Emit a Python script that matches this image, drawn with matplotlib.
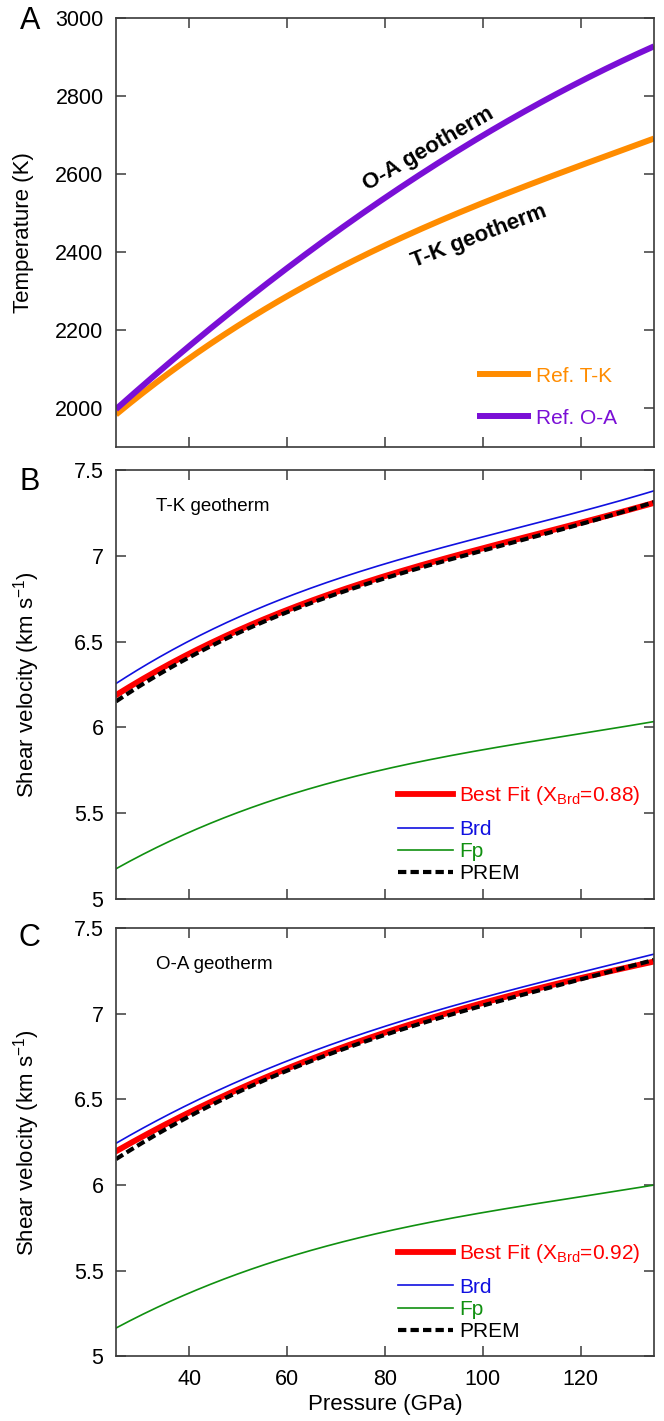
import numpy as np
import matplotlib
matplotlib.use('Agg')
import matplotlib.pyplot as plt
from matplotlib.ticker import FormatStrFormatter

plt.rcParams['font.family'] = ['Liberation Sans', 'DejaVu Sans']
plt.rcParams['mathtext.fontset'] = 'custom'
plt.rcParams['mathtext.rm'] = 'Liberation Sans'
plt.rcParams['mathtext.it'] = 'Liberation Sans:italic'

P = [25, 40, 60, 80, 100, 120, 135]

# panel A: geotherms (K)
T_tk = [1983, 2129, 2283, 2421, 2527, 2620, 2693]
T_oa = [1996, 2163, 2352, 2545, 2700, 2835, 2930]

# panel B: T-K geotherm, shear velocity (km/s)
vs_fit_b = [6.192, 6.42, 6.700, 6.874, 7.048, 7.194, 7.310]
vs_brd_b = [6.258, 6.50, 6.767, 6.950, 7.116, 7.256, 7.382]
vs_fp_b = [5.178, 5.382, 5.605, 5.760, 5.866, 5.963, 6.035]
vs_prem_b = [6.155, 6.40, 6.685, 6.862, 7.035, 7.185, 7.315]

# panel C: O-A geotherm
vs_fit_c = [6.198, 6.42, 6.684, 6.888, 7.062, 7.207, 7.304]
vs_brd_c = [6.244, 6.471, 6.723, 6.926, 7.097, 7.236, 7.349]
vs_fp_c = [5.163, 5.376, 5.570, 5.730, 5.840, 5.930, 6.000]
vs_prem_c = [6.151, 6.40, 6.670, 6.872, 7.050, 7.198, 7.314]

x_ticks = [40, 60, 80, 100, 120]
T_ticks = [2000, 2200, 2400, 2600, 2800, 3000]
v_ticks = [5, 5.5, 6, 6.5, 7, 7.5]

orange = '#ff8c00'
purple = '#7a0fd6'
spine_c = '#3a3a3a'
fs_tick = 15.5
fs_lab = 16
fs_leg = 15


def smooth(p, v):
    pp = np.linspace(p[0], p[-1], 200)
    coef = np.polyfit(p, v, 3)
    return pp, np.polyval(coef, pp)


def style(ax):
    for s in ax.spines.values():
        s.set_color(spine_c)
        s.set_linewidth(1.2)
    ax.tick_params(direction='in', top=True, right=True, length=7, width=1.1,
                   color=spine_c, labelsize=fs_tick)
    ax.tick_params(axis='y', pad=9)
    ax.tick_params(axis='x', pad=9)
    ax.set_xlim(25, 135)
    ax.set_xticks(x_ticks)


fig = plt.figure(figsize=(6.64, 14.21), dpi=100)
axA = fig.add_axes([0.1747, 0.6855, 0.8102, 0.3015])
axB = fig.add_axes([0.1747, 0.3675, 0.8102, 0.3015])
axC = fig.add_axes([0.1747, 0.0455, 0.8102, 0.3015])

# ---- panel A
pp, tt = smooth(P, T_tk)
axA.plot(pp, tt, color=orange, lw=4.3, label='Ref. T-K', solid_capstyle='butt')
pp, tt = smooth(P, T_oa)
axA.plot(pp, tt, color=purple, lw=4.3, label='Ref. O-A', solid_capstyle='butt')
style(axA)
axA.set_ylim(1900, 3000)
axA.set_yticks(T_ticks)
axA.set_xticklabels([])
axA.set_ylabel('Temperature (K)', fontsize=fs_lab)
axA.yaxis.set_label_coords(-0.152, 0.5)
axA.text(88.8, 2665, 'O-A geotherm', fontsize=16, fontweight='bold',
         rotation=30, ha='center', va='center')
axA.text(99.3, 2441, 'T-K geotherm', fontsize=16, fontweight='bold',
         rotation=21, ha='center', va='center')
axA.legend(loc='lower left', bbox_to_anchor=(0.671, 0.045), frameon=False,
           fontsize=fs_leg, handlelength=2.6, handletextpad=0.25, labelspacing=1.1,
           borderpad=0, borderaxespad=0, labelcolor='linecolor')

# ---- panels B and C
panels = [
    (axB, vs_fit_b, vs_brd_b, vs_fp_b, vs_prem_b, '0.88', 'T-K geotherm'),
    (axC, vs_fit_c, vs_brd_c, vs_fp_c, vs_prem_c, '0.92', 'O-A geotherm'),
]
for ax, fit, brd, fp, prem, xb, name in panels:
    pp, v = smooth(P, fit)
    l_fit, = ax.plot(pp, v, color='#ff0000', lw=4.2,
                     label=r'Best Fit (X$_{\mathregular{Brd}}$=' + xb + ')')
    pp, v = smooth(P, brd)
    l_brd, = ax.plot(pp, v, color='#1010e0', lw=1.2, label='Brd')
    pp, v = smooth(P, fp)
    l_fp, = ax.plot(pp, v, color='#109010', lw=1.2, label='Fp')
    pp, v = smooth(P, prem)
    l_prem, = ax.plot(pp, v, color='black', lw=3, ls=(0, (2.0, 1.0)), label='PREM')
    style(ax)
    ax.set_ylim(5, 7.5)
    ax.set_yticks(v_ticks)
    ax.yaxis.set_major_formatter(FormatStrFormatter('%g'))
    ax.set_ylabel(r'Shear velocity (km s$^{\mathregular{-1}}$)', fontsize=fs_lab)
    ax.yaxis.set_label_coords(-0.137, 0.5)
    ax.text(0.074, 0.915, name, transform=ax.transAxes, fontsize=13.5,
            ha='left', va='center')
    leg1 = ax.legend(handles=[l_fit], loc='center left', bbox_to_anchor=(0.525, 0.24),
                     frameon=False, fontsize=fs_leg, handlelength=2.6, handletextpad=0.3,
                     borderpad=0, borderaxespad=0)
    ax.add_artist(leg1)
    leg2 = ax.legend(handles=[l_brd, l_fp, l_prem], loc='lower left',
                     bbox_to_anchor=(0.525, 0.036), frameon=False, fontsize=fs_leg,
                     handlelength=2.6, handletextpad=0.3, labelspacing=0.15,
                     borderpad=0, borderaxespad=0)
    for leg in (leg1, leg2):
        for line, txt in zip(leg.get_lines(), leg.get_texts()):
            txt.set_color(line.get_color())

axB.set_xticklabels([])
axC.set_xlabel('Pressure (GPa)', fontsize=fs_lab, labelpad=3)

fig.text(0.045, 0.985, 'A', fontsize=22, ha='center', va='center')
fig.text(0.045, 0.661, 'B', fontsize=22, ha='center', va='center')
fig.text(0.045, 0.340, 'C', fontsize=22, ha='center', va='center')

plt.savefig('out.png', dpi=100)
